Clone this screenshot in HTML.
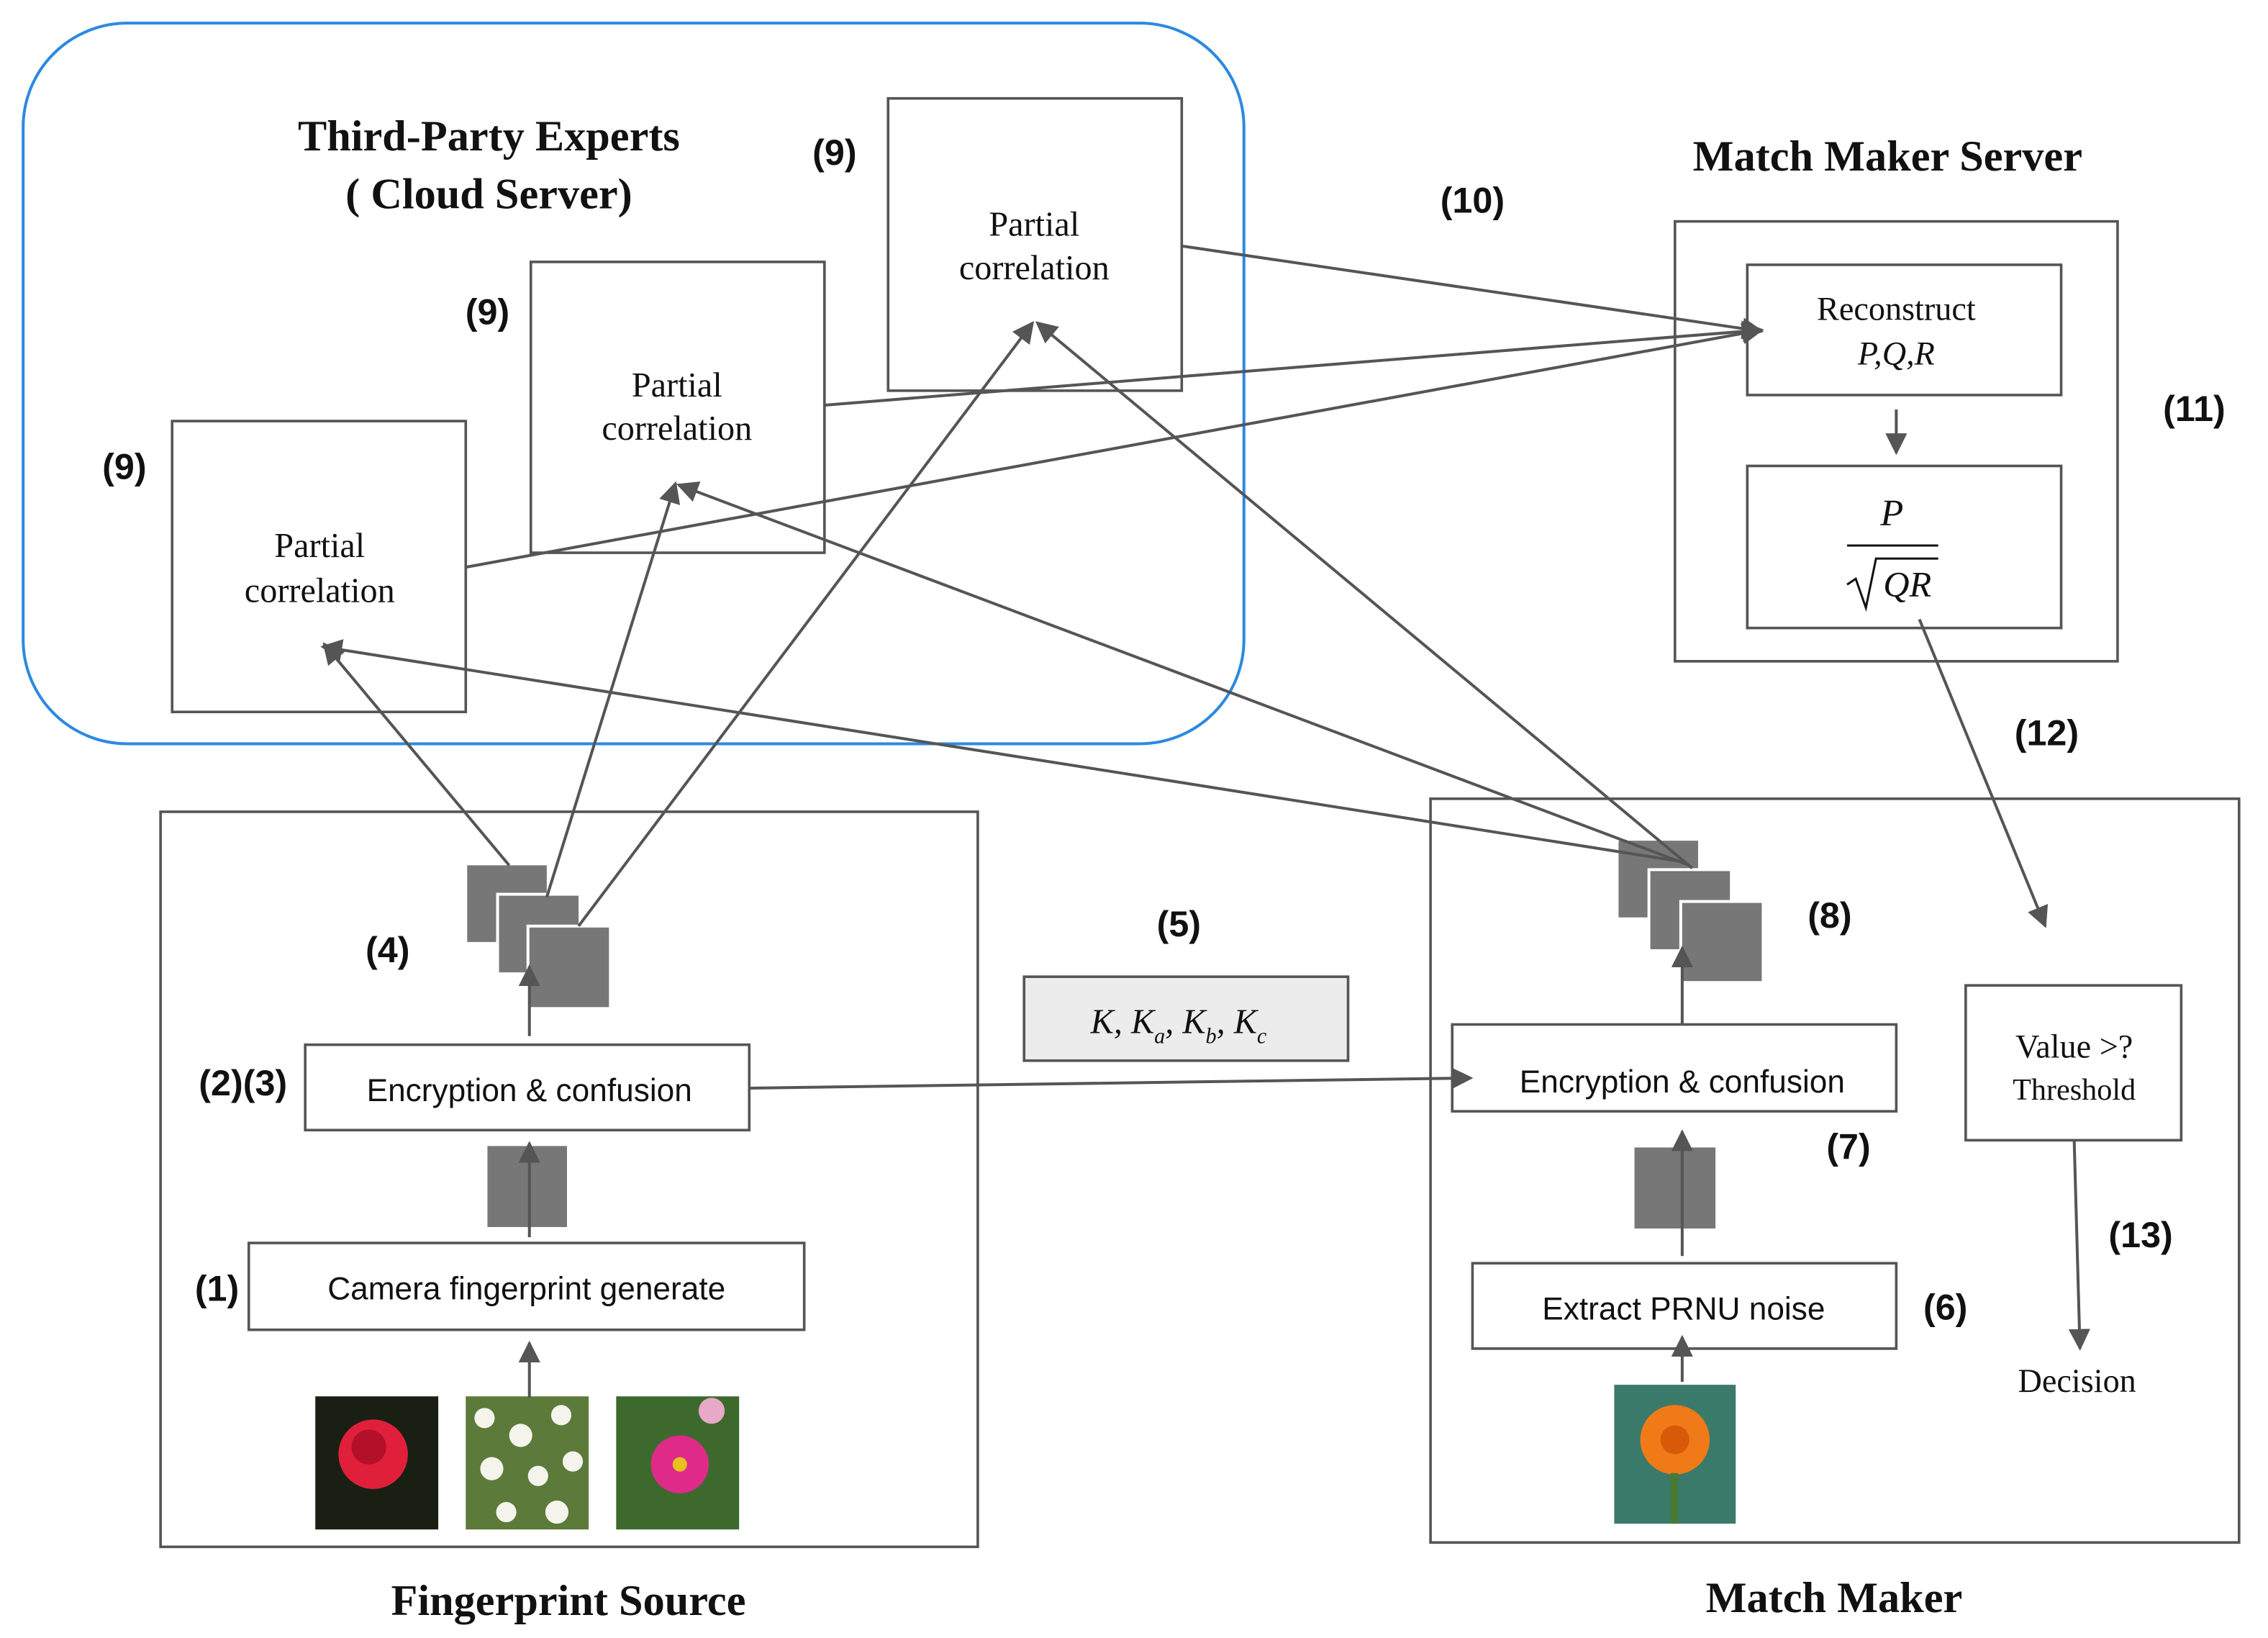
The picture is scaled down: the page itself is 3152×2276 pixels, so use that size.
<!DOCTYPE html>
<html><head><meta charset="utf-8"><style>
html,body{margin:0;padding:0;background:#fff;}
svg{display:block;}
.s{font-family:"Liberation Serif",serif;fill:#111;}
.a{font-family:"Liberation Sans",sans-serif;fill:#111;}
</style></head><body>
<svg width="3152" height="2276" viewBox="0 0 1568 1132" preserveAspectRatio="none" xmlns="http://www.w3.org/2000/svg">
<defs>
<marker id="arb" viewBox="0 0 10 10" refX="9" refY="5" markerWidth="15" markerHeight="15" orient="auto" markerUnits="userSpaceOnUse">
<path d="M0,0 L10,5 L0,10 z" fill="#555"/></marker>
</defs>
<rect width="1568" height="1132" fill="#fff"/>
<rect x="16" y="16" width="844" height="498" rx="72" fill="none" stroke="#2b8ae0" stroke-width="2"/>
<text class="s" x="338" y="104" font-size="30" font-weight="bold" text-anchor="middle">Third-Party Experts</text>
<text class="s" x="338" y="144" font-size="30" font-weight="bold" text-anchor="middle">( Cloud Server)</text>

<g fill="#fff" stroke="#555" stroke-width="1.8">
<rect x="119" y="291" width="203" height="201"/>
<rect x="367" y="181" width="203" height="201"/>
<rect x="614" y="68" width="203" height="202"/>
<rect x="1158" y="153" width="306" height="304"/>
<rect x="1208" y="183" width="217" height="90"/>
<rect x="1208" y="322" width="217" height="112"/>
<rect x="111" y="561" width="565" height="508"/>
<rect x="989" y="552" width="559" height="514"/>
<rect x="708" y="675" width="224" height="58" fill="#ececec"/>
<rect x="211" y="722" width="307" height="59"/>
<rect x="172" y="859" width="384" height="60"/>
<rect x="1004" y="708" width="307" height="60"/>
<rect x="1018" y="873" width="293" height="59"/>
<rect x="1359" y="681" width="149" height="107"/>
</g>
<g class="s" font-size="24" text-anchor="middle">
<text x="221" y="385">Partial</text><text x="221" y="416">correlation</text>
<text x="468" y="274">Partial</text><text x="468" y="304">correlation</text>
<text x="715" y="163">Partial</text><text x="715" y="193">correlation</text>
<text x="1311" y="221" font-size="23">Reconstruct</text>
<text x="1311" y="252" font-size="23" font-style="italic">P,Q,R</text>
<text x="1308" y="363" font-size="26" font-style="italic">P</text>
<text x="1434" y="731" font-size="23">Value &gt;?</text>
<text x="1434" y="760" font-size="21">Threshold</text>
<text x="1436" y="962" font-size="23">Decision</text>
</g>
<line x1="1277" y1="377" x2="1340" y2="377" stroke="#111" stroke-width="1.5"/>
<path d="M1277,404 L1283,400 L1290,420 L1297,386 L1340,386" fill="none" stroke="#111" stroke-width="1.5"/>
<text class="s" x="1302" y="412" font-size="25" font-style="italic">QR</text>
<text class="s" x="1305" y="118" font-size="30" font-weight="bold" text-anchor="middle">Match Maker Server</text>
<text class="s" x="393" y="1116" font-size="30" font-weight="bold" text-anchor="middle">Fingerprint Source</text>
<text class="s" x="1268" y="1114" font-size="30" font-weight="bold" text-anchor="middle">Match Maker</text>
<text class="s" x="754" y="714" font-size="24" font-style="italic">K, K<tspan font-size="15" dy="7">a</tspan><tspan dy="-7">, K</tspan><tspan font-size="15" dy="7">b</tspan><tspan dy="-7">, K</tspan><tspan font-size="15" dy="7">c</tspan></text>

<g class="a" font-size="22" text-anchor="middle">
<text x="366" y="761">Encryption &amp; confusion</text>
<text x="364" y="898">Camera fingerprint generate</text>
<text x="1163" y="755">Encryption &amp; confusion</text>
<text x="1164" y="912">Extract PRNU noise</text>
</g>
<g class="a" font-size="25" font-weight="bold" text-anchor="middle">
<text x="86" y="331">(9)</text><text x="337" y="224">(9)</text><text x="577" y="114">(9)</text>
<text x="1018" y="147">(10)</text><text x="1517" y="291">(11)</text><text x="1415" y="515">(12)</text>
<text x="268" y="665">(4)</text><text x="815" y="647">(5)</text><text x="1265" y="641">(8)</text>
<text x="168" y="757">(2)(3)</text><text x="150" y="899">(1)</text>
<text x="1278" y="801">(7)</text><text x="1345" y="912">(6)</text><text x="1480" y="862">(13)</text>
</g>

<g fill="#777" stroke="#fff" stroke-width="2">
<rect x="322" y="597" width="57" height="55"/>
<rect x="344" y="618" width="57" height="55"/>
<rect x="365" y="640" width="57" height="57"/>
<rect x="1118" y="580" width="57" height="55"/>
<rect x="1140" y="601" width="57" height="56"/>
<rect x="1162" y="623" width="57" height="56"/>
<rect x="337" y="792" width="55" height="56" stroke="none"/>
<rect x="1130" y="793" width="56" height="56" stroke="none"/>
</g>

<rect x="218" y="965" width="85" height="92" fill="#1a1f14"/>
<circle cx="258" cy="1005" r="24" fill="#e0203a"/><circle cx="255" cy="1000" r="12" fill="#b3102a"/>
<rect x="322" y="965" width="85" height="92" fill="#5c7a3a"/>
<g fill="#f4f4ec"><circle cx="335" cy="980" r="7"/><circle cx="360" cy="992" r="8"/><circle cx="388" cy="978" r="7"/><circle cx="340" cy="1015" r="8"/><circle cx="372" cy="1020" r="7"/><circle cx="396" cy="1010" r="7"/><circle cx="350" cy="1045" r="7"/><circle cx="385" cy="1045" r="8"/></g>
<rect x="426" y="965" width="85" height="92" fill="#3d6a2c"/>
<circle cx="470" cy="1012" r="20" fill="#e02a8a"/><circle cx="470" cy="1012" r="5" fill="#e8c020"/><circle cx="492" cy="975" r="9" fill="#e8a8c8"/>
<rect x="1116" y="957" width="84" height="96" fill="#3a7a6a"/>
<circle cx="1158" cy="995" r="24" fill="#f07a18"/><circle cx="1158" cy="995" r="10" fill="#d85a08"/>
<rect x="1155" y="1018" width="5" height="35" fill="#4a7a30"/>

<g stroke="#555" stroke-width="2" fill="none" marker-end="url(#arb)">
<line x1="352" y1="598" x2="224" y2="445"/>
<line x1="378" y1="620" x2="467" y2="334"/>
<line x1="400" y1="640" x2="714" y2="223"/>
<line x1="1166" y1="596" x2="223" y2="447"/>
<line x1="1168" y1="598" x2="469" y2="335"/>
<line x1="1170" y1="600" x2="717" y2="223"/>
<line x1="817" y1="170" x2="1218" y2="229"/>
<line x1="570" y1="280" x2="1218" y2="228"/>
<line x1="322" y1="392" x2="1218" y2="228"/>
<line x1="1311" y1="283" x2="1311" y2="313"/>
<line x1="1327" y1="428" x2="1414" y2="640"/>
<line x1="518" y1="752" x2="1017" y2="745"/>
<line x1="366" y1="855" x2="366" y2="790"/>
<line x1="366" y1="966" x2="366" y2="928"/>
<line x1="366" y1="716" x2="366" y2="668"/>
<line x1="1163" y1="708" x2="1163" y2="655"/>
<line x1="1163" y1="868" x2="1163" y2="782"/>
<line x1="1163" y1="955" x2="1163" y2="924"/>
<line x1="1434" y1="788" x2="1438" y2="932"/>
</g>
</svg>
</body></html>
